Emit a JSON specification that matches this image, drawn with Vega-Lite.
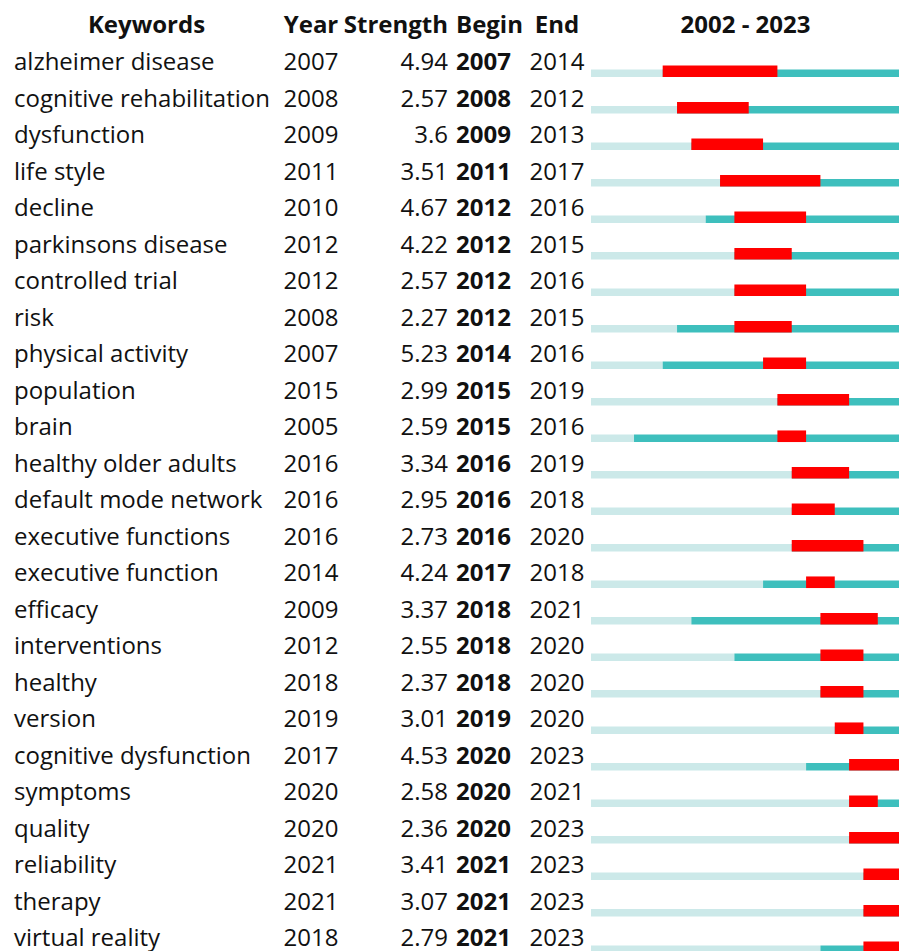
{
  "$schema": "https://vega.github.io/schema/vega-lite/v6.json",
  "padding": {"left": 14, "top": 13, "right": 0, "bottom": 0},
  "background": "white",
  "config": {
    "view": {"stroke": null},
    "concat": {"spacing": 0},
    "font": "Open Sans",
    "text": {"fontSize": 24, "color": "#111111"},
    "title": {"fontSize": 24, "fontWeight": "bold", "color": "#111111", "offset": 7.5, "frame": "group"}
  },
  "datasets": {
    "burst": [
      {"kw": "alzheimer disease", "year": 2007, "strength": 4.94, "begin": 2007, "end": 2014},
      {"kw": "cognitive rehabilitation", "year": 2008, "strength": 2.57, "begin": 2008, "end": 2012},
      {"kw": "dysfunction", "year": 2009, "strength": 3.6, "begin": 2009, "end": 2013},
      {"kw": "life style", "year": 2011, "strength": 3.51, "begin": 2011, "end": 2017},
      {"kw": "decline", "year": 2010, "strength": 4.67, "begin": 2012, "end": 2016},
      {"kw": "parkinsons disease", "year": 2012, "strength": 4.22, "begin": 2012, "end": 2015},
      {"kw": "controlled trial", "year": 2012, "strength": 2.57, "begin": 2012, "end": 2016},
      {"kw": "risk", "year": 2008, "strength": 2.27, "begin": 2012, "end": 2015},
      {"kw": "physical activity", "year": 2007, "strength": 5.23, "begin": 2014, "end": 2016},
      {"kw": "population", "year": 2015, "strength": 2.99, "begin": 2015, "end": 2019},
      {"kw": "brain", "year": 2005, "strength": 2.59, "begin": 2015, "end": 2016},
      {"kw": "healthy older adults", "year": 2016, "strength": 3.34, "begin": 2016, "end": 2019},
      {"kw": "default mode network", "year": 2016, "strength": 2.95, "begin": 2016, "end": 2018},
      {"kw": "executive functions", "year": 2016, "strength": 2.73, "begin": 2016, "end": 2020},
      {"kw": "executive function", "year": 2014, "strength": 4.24, "begin": 2017, "end": 2018},
      {"kw": "efficacy", "year": 2009, "strength": 3.37, "begin": 2018, "end": 2021},
      {"kw": "interventions", "year": 2012, "strength": 2.55, "begin": 2018, "end": 2020},
      {"kw": "healthy", "year": 2018, "strength": 2.37, "begin": 2018, "end": 2020},
      {"kw": "version", "year": 2019, "strength": 3.01, "begin": 2019, "end": 2020},
      {"kw": "cognitive dysfunction", "year": 2017, "strength": 4.53, "begin": 2020, "end": 2023},
      {"kw": "symptoms", "year": 2020, "strength": 2.58, "begin": 2020, "end": 2021},
      {"kw": "quality", "year": 2020, "strength": 2.36, "begin": 2020, "end": 2023},
      {"kw": "reliability", "year": 2021, "strength": 3.41, "begin": 2021, "end": 2023},
      {"kw": "therapy", "year": 2021, "strength": 3.07, "begin": 2021, "end": 2023},
      {"kw": "virtual reality", "year": 2018, "strength": 2.79, "begin": 2021, "end": 2023}
    ]
  },
  "data": {"name": "burst"},
  "hconcat": [
    {
      "width": 265, "height": 907.75,
      "title": {"text": "Keywords", "anchor": "middle"},
      "mark": {"type": "text", "align": "left"},
      "encoding": {
        "y": {"field": "kw", "type": "nominal", "sort": null, "axis": null, "scale": {"range": [0, 912.5], "paddingInner": 0, "paddingOuter": 0}},
        "x": {"value": 0},
        "text": {"field": "kw", "type": "nominal"}
      }
    },
    {
      "width": 64, "height": 907.75,
      "title": {"text": "Year", "anchor": "middle"},
      "mark": {"type": "text", "align": "center"},
      "encoding": {
        "y": {"field": "kw", "type": "nominal", "sort": null, "axis": null, "scale": {"range": [0, 912.5], "paddingInner": 0, "paddingOuter": 0}},
        "text": {"field": "year", "type": "nominal"}
      }
    },
    {
      "width": 104, "height": 907.75,
      "title": {"text": "Strength", "anchor": "end"},
      "mark": {"type": "text", "align": "right"},
      "encoding": {
        "y": {"field": "kw", "type": "nominal", "sort": null, "axis": null, "scale": {"range": [0, 912.5], "paddingInner": 0, "paddingOuter": 0}},
        "x": {"value": 104},
        "text": {"field": "strength", "type": "nominal"}
      }
    },
    {
      "width": 75, "height": 907.75,
      "title": {"text": "Begin", "anchor": "start", "dx": 8},
      "mark": {"type": "text", "align": "left", "fontWeight": "bold", "dx": 8},
      "encoding": {
        "y": {"field": "kw", "type": "nominal", "sort": null, "axis": null, "scale": {"range": [0, 912.5], "paddingInner": 0, "paddingOuter": 0}},
        "x": {"value": 0},
        "text": {"field": "begin", "type": "nominal"}
      }
    },
    {
      "width": 68, "height": 907.75,
      "title": {"text": "End", "anchor": "middle"},
      "mark": {"type": "text", "align": "center"},
      "encoding": {
        "y": {"field": "kw", "type": "nominal", "sort": null, "axis": null, "scale": {"range": [0, 912.5], "paddingInner": 0, "paddingOuter": 0}},
        "text": {"field": "end", "type": "nominal"}
      }
    },
    {
      "width": 309, "height": 907.75,
      "title": {"text": "2002 - 2023", "anchor": "middle"},
      "transform": [{"calculate": "datum.end + 1", "as": "endEdge"}],
      "encoding": {
        "y": {"field": "kw", "type": "nominal", "sort": null, "axis": null, "scale": {"range": [0, 912.5], "paddingInner": 0, "paddingOuter": 0}}
      },
      "layer": [
        {
          "mark": {"type": "bar", "color": "#cce9e9", "height": 7.6, "yOffset": 10, "clip": true},
          "encoding": {
            "x": {"field": "year", "type": "quantitative", "scale": {"domain": [2002, 2023.55], "nice": false, "zero": false}, "axis": null},
            "x2": {"datum": 2002}
          }
        },
        {
          "mark": {"type": "bar", "color": "#3ebfbd", "height": 7.6, "yOffset": 10, "clip": true},
          "encoding": {
            "x": {"field": "year", "type": "quantitative"},
            "x2": {"datum": 2024}
          }
        },
        {
          "mark": {"type": "bar", "color": "#ff0000", "height": 11.6, "yOffset": 8, "clip": true},
          "encoding": {
            "x": {"field": "begin", "type": "quantitative"},
            "x2": {"field": "endEdge"}
          }
        }
      ]
    }
  ]
}
